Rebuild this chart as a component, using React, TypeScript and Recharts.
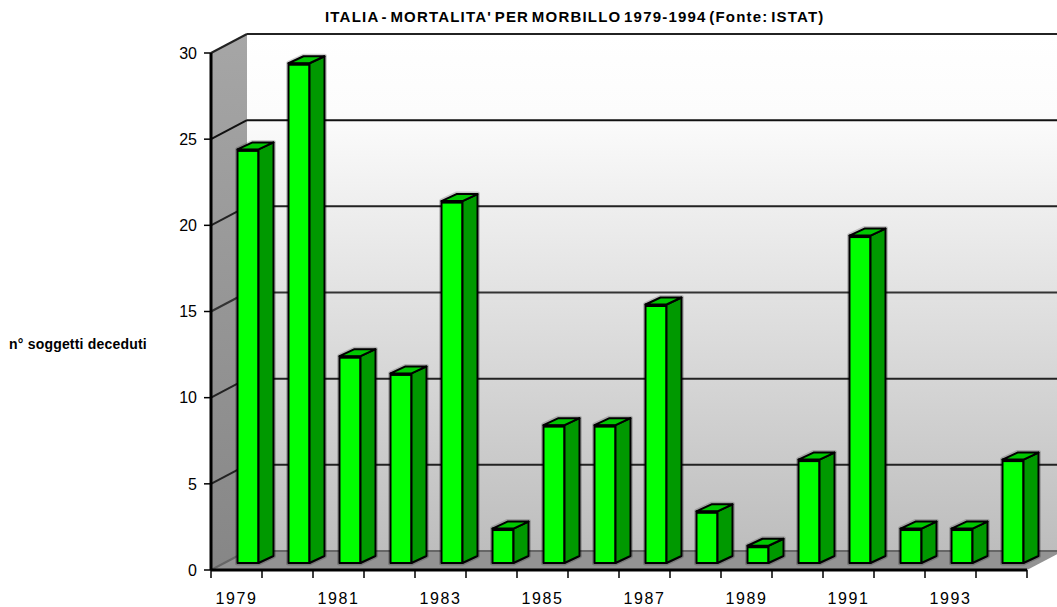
import { BarChart, Bar, XAxis, YAxis, ReferenceArea, ReferenceLine } from "recharts";

const years = ["1979", "1980", "1981", "1982", "1983", "1984", "1985", "1986", "1987", "1988", "1989", "1990", "1991", "1992", "1993", "1994"];
const deaths = [24, 29, 12, 11, 21, 2, 8, 8, 15, 3, 1, 6, 19, 2, 2, 6];
const yTicks = [0, 5, 10, 15, 20, 25, 30];
const gridColors: Record<number, string> = { 0: "#666", 5: "#222", 10: "#222", 15: "#333", 20: "#222", 25: "#111", 30: "#222" };

const data = years.map((year, i) => ({ year, deaths: deaths[i] }));

// depth of the fake 3D box, and how far the walls sit behind the axes
const WALL_DX = 36;
const WALL_DY = -19;
const BAR_DX = 11.5;
const BAR_DY = -7;
const DEPTH_X = 15;
const DEPTH_Y = -7;

const Walls = ({ x, y, width, height }: any) => {
  const bottom = y + height;
  const right = x + width;
  return (
    <g>
      <defs>
        <linearGradient id="backWall" x1="0" y1="0" x2="0" y2="1">
          <stop offset="0" stopColor="#ffffff" />
          <stop offset="0.15" stopColor="#fcfcfc" />
          <stop offset="1" stopColor="#bdbdbd" />
        </linearGradient>
        <linearGradient id="sideWall" x1="0" y1="0" x2="0" y2="1">
          <stop offset="0" stopColor="#a6a6a6" />
          <stop offset="1" stopColor="#868686" />
        </linearGradient>
      </defs>
      <rect x={x + WALL_DX} y={y + WALL_DY} width={width} height={height} fill="url(#backWall)" />
      <polygon
        points={`${x},${y} ${x + WALL_DX},${y + WALL_DY} ${x + WALL_DX},${bottom + WALL_DY} ${x},${bottom}`}
        fill="url(#sideWall)"
      />
      <polygon
        points={`${x},${bottom} ${x + WALL_DX},${bottom + WALL_DY} ${right + WALL_DX},${bottom + WALL_DY} ${right},${bottom}`}
        fill="#939393"
      />
    </g>
  );
};

const GridLine = ({ x1, y1, x2, y2, value }: any) => {
  const color = gridColors[value];
  return (
    <g stroke={color} strokeWidth={2} fill="none">
      <line x1={x1} y1={y1} x2={x1 + WALL_DX} y2={y1 + WALL_DY} />
      <line x1={x1 + WALL_DX} y1={y1 + WALL_DY} x2={x2 + WALL_DX} y2={y2 + WALL_DY} />
    </g>
  );
};

const Box = ({ x, y, width, height }: any) => {
  const left = x + BAR_DX;
  const top = y + BAR_DY;
  const right = left + width;
  const bottom = top + height;
  const outline = `${left},${top} ${left + DEPTH_X},${top + DEPTH_Y} ${right + DEPTH_X},${top + DEPTH_Y} ${right + DEPTH_X},${bottom + DEPTH_Y} ${right},${bottom} ${left},${bottom}`;
  return (
    <g stroke="#000" strokeWidth={2} strokeLinejoin="round">
      {/* soft grey rim the original has round each box */}
      <polygon points={outline} fill="none" stroke="rgba(0,0,0,0.18)" strokeWidth={5} />
      <rect x={left} y={top} width={width} height={height} fill="#00ff00" />
      <polygon
        points={`${right},${top} ${right + DEPTH_X},${top + DEPTH_Y} ${right + DEPTH_X},${bottom + DEPTH_Y} ${right},${bottom}`}
        fill="#009900"
      />
      <polygon
        points={`${left},${top} ${left + DEPTH_X},${top + DEPTH_Y} ${right + DEPTH_X},${top + DEPTH_Y} ${right},${top}`}
        fill="#00c800"
      />
      <line x1={left} y1={top + 1} x2={right} y2={top + 1} strokeWidth={3} />
    </g>
  );
};

const XTick = ({ x, y, index, payload }: any) => {
  const band = 51;
  const isLast = index === years.length - 1;
  const axisY = y - 8;
  return (
    <g>
      <line x1={x - band / 2} y1={axisY} x2={x - band / 2} y2={axisY + 8} stroke="#000" strokeWidth={1.5} />
      {isLast && <line x1={x + band / 2} y1={axisY} x2={x + band / 2} y2={axisY + 8} stroke="#000" strokeWidth={1.5} />}
      {index % 2 === 0 && (
        <text x={x} y={axisY + 34} textAnchor="middle" fontSize={16} letterSpacing={1.6} fill="#000">
          {payload.value}
        </text>
      )}
    </g>
  );
};

const font = "'Liberation Sans', Arial, sans-serif";

export default function App() {
  return (
    <div style={{ position: "absolute", left: 0, top: 0, width: 1057, height: 607, overflow: "hidden", fontFamily: font }}>
      <div style={{ position: "absolute", left: 325, top: 8, whiteSpace: "nowrap", fontSize: 15, fontWeight: "bold", letterSpacing: 1.2, wordSpacing: -2.7, lineHeight: "18px" }}>
        ITALIA - MORTALITA' PER MORBILLO 1979-1994 (Fonte: ISTAT)
      </div>
      <div style={{ position: "absolute", left: 9, top: 336, whiteSpace: "nowrap", fontSize: 14, fontWeight: "bold", letterSpacing: 0.2, lineHeight: "16px" }}>
        n° soggetti deceduti
      </div>
      <BarChart
        width={1057}
        height={607}
        data={data}
        margin={{ top: 53, right: 30, bottom: 0, left: 0 }}
        style={{ fontFamily: font }}
      >
        <XAxis
          dataKey="year"
          interval={0}
          height={37}
          tickLine={false}
          tick={<XTick />}
          axisLine={{ stroke: "#000", strokeWidth: 3 }}
        />
        <YAxis
          width={211}
          domain={[0, 30]}
          ticks={yTicks}
          interval={0}
          tickSize={7}
          tickMargin={7}
          tick={{ fill: "#000", fontSize: 16 }}
          tickLine={{ stroke: "#000", strokeWidth: 1.5 }}
          axisLine={{ stroke: "#000", strokeWidth: 3 }}
        />
        <ReferenceArea y1={0} y2={30} ifOverflow="visible" zIndex={-200} shape={<Walls />} />
        {yTicks.map((t) => (
          <ReferenceLine key={t} y={t} ifOverflow="visible" zIndex={-100} shape={(p: any) => <GridLine {...p} value={t} />} />
        ))}
        <Bar dataKey="deaths" barSize={21} shape={<Box />} isAnimationActive={false} />
      </BarChart>
    </div>
  );
}
